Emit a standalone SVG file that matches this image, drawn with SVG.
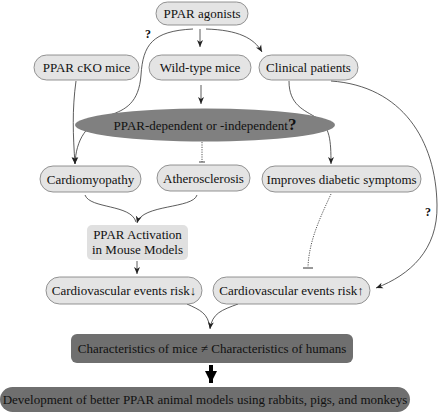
<svg xmlns="http://www.w3.org/2000/svg" width="440" height="412" viewBox="0 0 440 412" font-family="'Liberation Serif', 'Times New Roman', 'DejaVu Serif', serif">
<defs>
<style>
text{font-family:'Liberation Serif','Times New Roman','DejaVu Serif',serif;font-size:13px;fill:#111;text-anchor:middle}
.n{fill:#e4e4e4;stroke:#7a7a7a;stroke-width:0.8}
.d{fill:#6f6f6f;stroke:none}
.c{fill:none;stroke:#333;stroke-width:0.8}
.a{marker-end:url(#ah)}
.dot{fill:none;stroke:#444;stroke-width:0.9;stroke-dasharray:1.2 1.2}
.q{font-weight:bold;font-size:12px}
</style>
<marker id="ah" markerWidth="8" markerHeight="8" refX="7" refY="4" orient="auto" markerUnits="userSpaceOnUse">
<path d="M0,1 L7,4 L0,7 L2,4 Z" fill="#222"/>
</marker>
<marker id="big" markerWidth="14" markerHeight="12" refX="12" refY="6" orient="auto" markerUnits="userSpaceOnUse">
<path d="M0,0 L12,6 L0,12 Z" fill="#000"/>
</marker>
</defs>
<rect width="440" height="412" fill="#fff"/>

<g id="connectors">
<path class="c a" d="M193,29 C152,31 143,45 141,75 C139,103 125,110 110,115 C86,123 76,140 75,164"/>
<path class="c a" d="M200,29 L200,47"/>
<path class="c a" d="M206,29 C238,30 254,38 262,52"/>
<path class="c a" d="M76,81 C72,110 73,135 75,164"/>
<path class="c a" d="M201,85 L201,104"/>
<path class="dot" d="M202,142 L202,162"/>
<path d="M199,162 L205,162" stroke="#444" stroke-width="1"/>
<path class="c a" d="M289,81 C289,105 304,110 317,118 C330,127 331,140 331,164"/>
<path class="c a" d="M331,81 C402,86 436,140 437,205 C438,250 410,275 376,288"/>
<path class="dot" d="M331,194 C321,216 309,240 308,267"/>
<path d="M303,268 L313,268" stroke="#333" stroke-width="1"/>
<path class="c" d="M85,195 C90,209 131,204 136,222"/>
<path class="c a" d="M197,195 C193,209 142,204 137,223"/>
<path class="c a" d="M137,261 L137,274"/>
<path class="c" d="M187,304 C200,310 208,313 210,328"/>
<path class="c a" d="M238,304 C222,310 212,313 210,329"/>
<path d="M211,365 L211,383" stroke="#000" stroke-width="4" fill="none" marker-end="url(#big)"/>
<text class="q" x="148" y="38">?</text>
<text class="q" x="428" y="216">?</text>
</g>

<g id="agonists"><rect class="n" x="156" y="2" width="92" height="23" rx="11.5"/><text x="202" y="18">PPAR agonists</text></g>
<g id="cko"><rect class="n" x="34" y="55" width="105" height="25" rx="12.5"/><text x="86.5" y="72">PPAR cKO mice</text></g>
<g id="wt"><rect class="n" x="149" y="55" width="102" height="25" rx="12.5"/><text x="200" y="72">Wild-type mice</text></g>
<g id="clinical"><rect class="n" x="259" y="55" width="99" height="25" rx="12.5"/><text x="308.5" y="72">Clinical patients</text></g>
<g id="question"><ellipse cx="205" cy="125" rx="130" ry="16.5" fill="#808080"/><text x="205" y="130">PPAR-dependent or -independent<tspan font-weight="bold" font-size="17px">?</tspan></text></g>
<g id="cardiomyopathy"><rect class="n" x="40" y="166" width="101" height="26" rx="13"/><text x="90.5" y="183.5">Cardiomyopathy</text></g>
<g id="atherosclerosis"><rect class="n" x="157" y="165" width="93" height="26" rx="13"/><text x="203.5" y="182.5">Atherosclerosis</text></g>
<g id="diabetic"><rect class="n" x="262" y="166" width="159" height="26" rx="13"/><text x="341.5" y="183.5">Improves diabetic symptoms</text></g>
<g id="activation"><rect x="87" y="225" width="101" height="35" rx="5" fill="#e0e0e0"/><text x="137.5" y="239">PPAR Activation</text><text x="137.5" y="254">in Mouse Models</text></g>
<g id="riskdown"><rect class="n" x="46" y="277" width="156" height="27" rx="13.5"/><text x="124" y="295">Cardiovascular events risk↓</text></g>
<g id="riskup"><rect class="n" x="213" y="277" width="157" height="27" rx="13.5"/><text x="291.5" y="295">Cardiovascular events risk↑</text></g>
<g id="characteristics"><rect class="d" x="71" y="334" width="282" height="29" rx="6"/><text x="212" y="353">Characteristics of mice ≠ Characteristics of humans</text></g>
<g id="development"><rect class="d" x="0" y="387" width="410" height="25" rx="12.5"/><text x="205" y="404">Development of better PPAR animal models using rabbits, pigs, and monkeys</text></g>
</svg>
